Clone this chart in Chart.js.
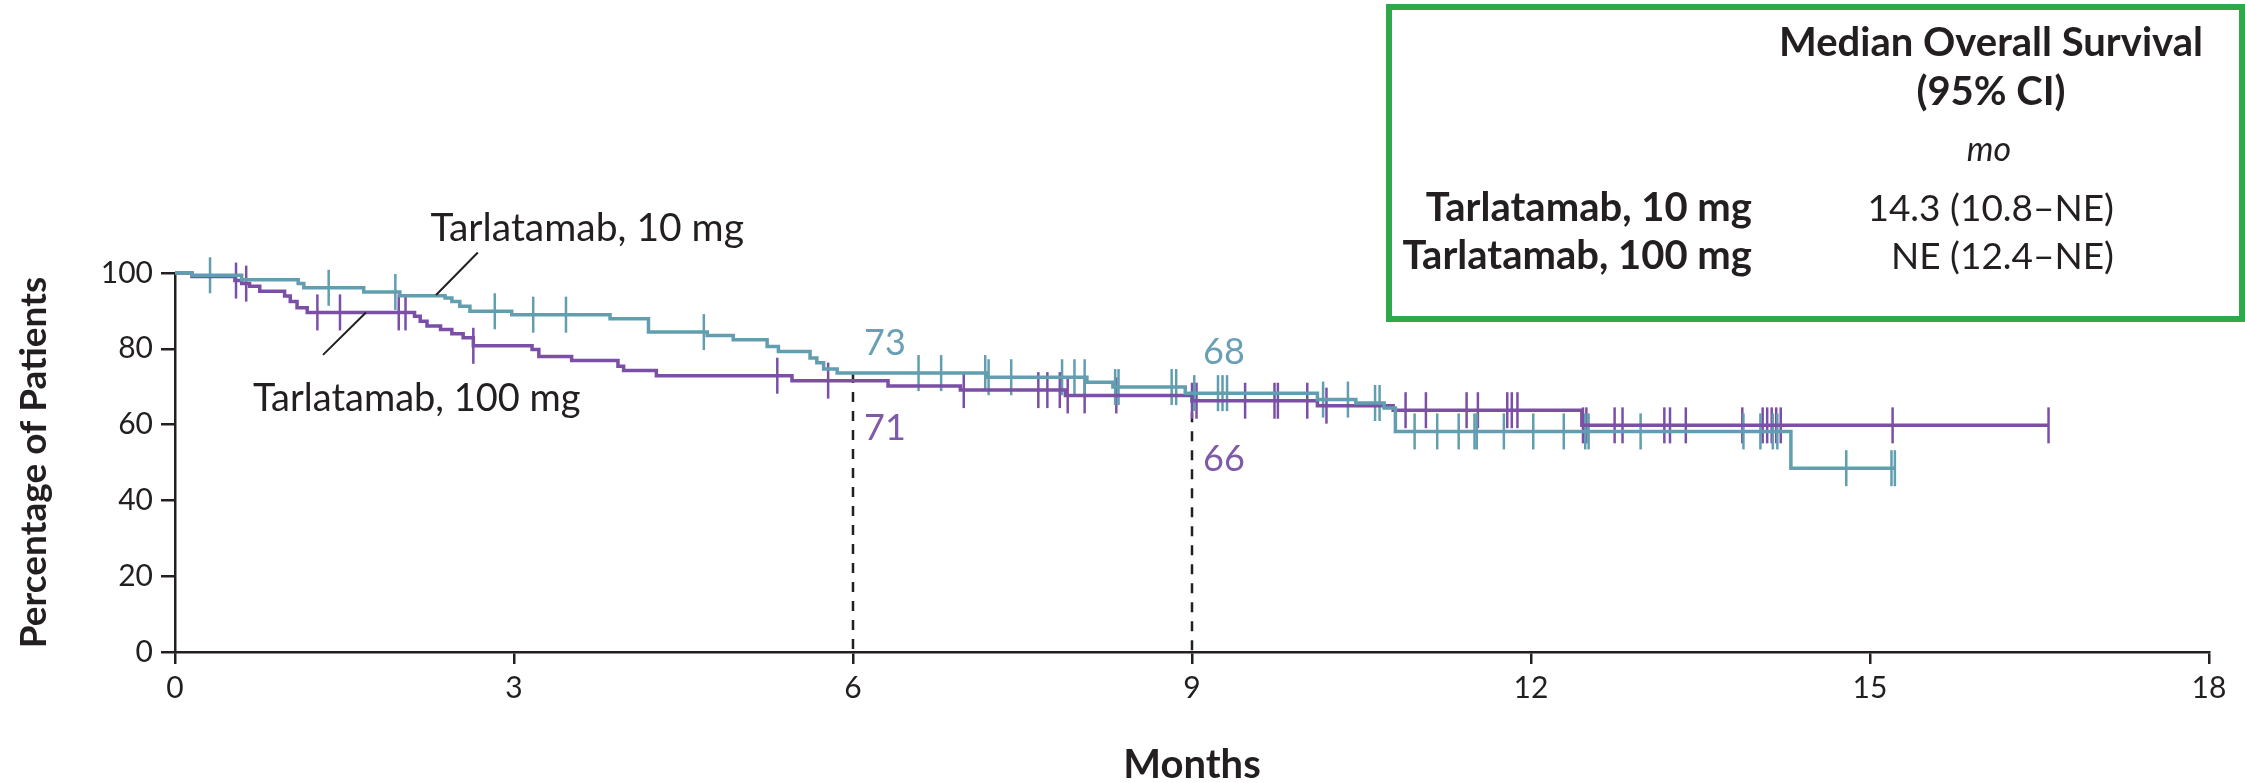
<!DOCTYPE html>
<html lang="en">
<head>
<meta charset="UTF-8">
<title>Overall Survival – Tarlatamab 10 mg vs 100 mg</title>
<script src="https://cdn.jsdelivr.net/npm/chart.js"></script>
<style>
  body { margin: 0; background: #fff; font-family: Lato, sans-serif; color: #231f20; }
  #wrap { position: relative; width: 2245px; height: 783px; overflow: hidden; }
  #chartCanvas { position: absolute; left: 0; top: 0; }
  #medianBox { position: absolute; left: 1386px; top: 4px; width: 859px; height: 318px;
               box-sizing: border-box; border: 6px solid #2fa84b; }
  .t { position: absolute; white-space: nowrap; line-height: 1; }
  .c { transform: translateX(-50%); }
  .r { transform: translateX(-100%); }
  .b { font-weight: 700; }
</style>
</head>
<body>
<div id="wrap">
  <canvas id="chartCanvas" width="2245" height="783"></canvas>
  <div id="medianBox"></div>
  <div class="t c b" style="left:1991px; top:21px; font-size:40px;">Median Overall Survival</div>
  <div class="t c b" style="left:1991px; top:70px; font-size:40px;">(95% CI)</div>
  <div class="t c" style="left:1989px; top:131px; font-size:34px; font-style:italic;">mo</div>
  <div class="t r b" style="left:1752px; top:186px; font-size:40px;">Tarlatamab, 10 mg</div>
  <div class="t r b" style="left:1752px; top:234px; font-size:40px;">Tarlatamab, 100 mg</div>
  <div class="t r" style="left:2114px; top:188px; font-size:37px;">14.3 (10.8–NE)</div>
  <div class="t r" style="left:2114px; top:236px; font-size:37px;">NE (12.4–NE)</div>
</div>

<script>
  // Kaplan-Meier steps: month where the step starts, % of patients alive
  const stepTimes10 = [0, 0.15, 0.59, 1.09, 1.14, 1.67, 1.99, 2.39, 2.45, 2.52, 2.61, 2.98, 3.85, 4.19, 4.71,
                       4.94, 5.24, 5.34, 5.62, 5.68, 5.74, 5.86, 7.18, 8.07, 8.30, 8.94, 10.11, 10.45, 10.70,
                       10.80, 14.30, 15.22];
  const stepSurv10  = [100, 99.4, 98.2, 97.2, 96.1, 95.0, 94.0, 93.4, 92.5, 91.2, 89.9, 89.0, 87.9, 84.4, 83.5,
                       82.4, 80.6, 79.3, 77.6, 76.3, 74.7, 73.6, 72.5, 71.2, 69.9, 68.3, 66.6, 65.7, 64.4,
                       58.2, 48.5, 48.5];

  const stepTimes100 = [0, 0.15, 0.53, 0.59, 0.66, 0.75, 0.97, 1.02, 1.08, 1.17, 2.12, 2.17, 2.23, 2.35, 2.45,
                        2.55, 2.64, 3.16, 3.22, 3.51, 3.92, 3.97, 4.26, 5.46, 6.31, 6.95, 7.88, 9.00, 10.11,
                        10.78, 12.45, 16.58];
  const stepSurv100  = [100, 99.1, 98.0, 97.2, 96.5, 95.2, 93.9, 92.5, 90.8, 89.6, 88.6, 87.3, 86.0, 85.1, 84.0,
                        82.9, 80.8, 79.8, 78.0, 76.9, 75.4, 74.3, 72.9, 71.6, 70.2, 69.1, 67.7, 66.3, 65.0,
                        63.8, 59.8, 59.8];

  // censored patients (months)
  const censor10 = [0.31, 1.36, 1.95, 2.83, 3.17, 3.46, 4.68, 6.58, 6.78, 7.17, 7.20, 7.40, 7.85, 7.96, 8.05,
                    8.32, 8.35, 8.82, 8.86, 9.02, 9.23, 9.27, 9.31, 10.16, 10.38, 10.62, 10.66, 10.97, 11.17,
                    11.36, 11.50, 11.52, 11.76, 12.02, 12.29, 12.48, 12.51, 12.97, 13.88, 14.03, 14.14, 14.18,
                    14.79, 15.19, 15.22];
  const censor100 = [0.54, 0.63, 1.26, 1.46, 1.98, 2.04, 2.64, 5.33, 5.78, 6.98, 7.64, 7.72, 7.83, 7.90, 8.05,
                     8.33, 9.00, 9.04, 9.47, 9.73, 9.76, 10.02, 10.19, 10.89, 11.07, 11.43, 11.53, 11.79, 11.83,
                     11.88, 12.46, 12.49, 12.74, 12.81, 13.18, 13.23, 13.37, 13.87, 14.05, 14.09, 14.13, 14.17,
                     14.21, 15.20, 16.58];

  // landmark estimates
  const landmarkMonths = [6, 9];
  const landmark10 = [73, 68];
  const landmark100 = [71, 66];

  const xTicks = [0, 3, 6, 9, 12, 15, 18];
  const yTicks = [0, 20, 40, 60, 80, 100];

  const TEAL = '#609eb0';
  const TEAL_TXT = '#6aa0b6';
  const PURPLE = '#7b4fa6';
  const PURPLE_TXT = '#7e5aa8';
  const INK = '#231f20';

  Chart.defaults.font.family = 'Lato, sans-serif';
  Chart.defaults.color = INK;

  function survivalAt(times, surv, t) {
    let v = surv[0];
    for (let i = 0; i < times.length; i++) {
      if (times[i] <= t) v = surv[i];
    }
    return v;
  }

  const toPoints = (times, surv) => times.map((t, i) => ({ x: t, y: surv[i] }));
  const toCensor = (cens, times, surv) => cens.map(t => ({ x: t, y: survivalAt(times, surv, t) }));

  const annotate = {
    id: 'annotate',
    beforeDatasetsDraw(chart) {
      const { ctx, scales: { x, y } } = chart;
      ctx.save();
      ctx.strokeStyle = INK;
      ctx.lineWidth = 2.5;
      ctx.setLineDash([10, 9]);
      landmarkMonths.forEach(m => {
        const px = x.getPixelForValue(m);
        ctx.beginPath();
        ctx.moveTo(px, y.getPixelForValue(survivalAt(stepTimes10, stepSurv10, m)));
        ctx.lineTo(px, y.getPixelForValue(0));
        ctx.stroke();
      });
      ctx.restore();
    },
    afterDatasetsDraw(chart) {
      const { ctx, scales: { x, y } } = chart;
      ctx.save();
      // landmark numbers (above: 10 mg, below: 100 mg)
      const above = [-32, -42];
      const below = [45, 58];
      ctx.font = '36px Lato, sans-serif';
      ctx.textAlign = 'left';
      ctx.textBaseline = 'middle';
      landmarkMonths.forEach((m, i) => {
        const px = x.getPixelForValue(m) + 11;
        ctx.fillStyle = TEAL_TXT;
        ctx.fillText(String(landmark10[i]), px, y.getPixelForValue(landmark10[i]) + above[i]);
        ctx.fillStyle = PURPLE_TXT;
        ctx.fillText(String(landmark100[i]), px, y.getPixelForValue(landmark100[i]) + below[i]);
      });

      // curve names with leader lines
      ctx.fillStyle = INK;
      ctx.font = '39px Lato, sans-serif';
      ctx.fillText('Tarlatamab, 10 mg', x.getPixelForValue(2.26), y.getPixelForValue(111.7));
      ctx.font = '38px Lato, sans-serif';
      ctx.fillText('Tarlatamab, 100 mg', x.getPixelForValue(0.69), y.getPixelForValue(66.8));
      ctx.strokeStyle = INK;
      ctx.lineWidth = 2;
      ctx.beginPath();
      ctx.moveTo(x.getPixelForValue(2.68), y.getPixelForValue(105.4));
      ctx.lineTo(x.getPixelForValue(2.31), y.getPixelForValue(94.2));
      ctx.moveTo(x.getPixelForValue(1.31), y.getPixelForValue(78.4));
      ctx.lineTo(x.getPixelForValue(1.69), y.getPixelForValue(89.6));
      ctx.stroke();
      ctx.restore();
    }
  };

  const ctx = document.getElementById('chartCanvas').getContext('2d');
  const chart = new Chart(ctx, {
    type: 'scatter',
    data: {
      datasets: [
        { label: 'Tarlatamab, 10 mg', data: toPoints(stepTimes10, stepSurv10), showLine: true, stepped: 'before',
          borderColor: TEAL, borderWidth: 3.5, pointRadius: 0, clip: false },
        { label: 'Tarlatamab, 100 mg', data: toPoints(stepTimes100, stepSurv100), showLine: true, stepped: 'before',
          borderColor: PURPLE, borderWidth: 3.5, pointRadius: 0, clip: false },
        { label: 'Censored 10 mg', data: toCensor(censor10, stepTimes10, stepSurv10), pointStyle: 'line',
          rotation: 90, pointRadius: 18, borderColor: TEAL, borderWidth: 2.5, clip: false },
        { label: 'Censored 100 mg', data: toCensor(censor100, stepTimes100, stepSurv100), pointStyle: 'line',
          rotation: 90, pointRadius: 18, borderColor: PURPLE, borderWidth: 2.5, clip: false }
      ]
    },
    options: {
      responsive: false,
      animation: false,
      events: [],
      layout: { padding: { left: 0, right: 36, top: 273, bottom: 0 } },
      plugins: { legend: { display: false }, tooltip: { enabled: false } },
      scales: {
        x: {
          type: 'linear', min: 0, max: 18,
          afterBuildTicks: s => { s.ticks = xTicks.map(v => ({ value: v })); },
          afterFit: s => { s.height = 131; },
          ticks: { font: { size: 30 }, color: INK, padding: 6 },
          grid: { drawOnChartArea: false, tickLength: 12, color: INK, lineWidth: 2.5 },
          border: { color: INK, width: 2.5 },
          title: { display: true, text: 'Months', font: { size: 40, weight: 'bold' }, color: INK,
                   padding: { top: -6, bottom: -6 } }
        },
        y: {
          min: 0, max: 100,
          afterBuildTicks: s => { s.ticks = yTicks.map(v => ({ value: v })); },
          afterFit: s => { s.width = 175; },
          ticks: { font: { size: 30 }, color: INK, padding: 8 },
          grid: { drawOnChartArea: false, tickLength: 14, color: INK, lineWidth: 2.5 },
          border: { color: INK, width: 2.5 },
          title: { display: true, text: 'Percentage of Patients', font: { size: 37, weight: 'bold' }, color: INK,
                   padding: { top: 12, bottom: 12 } }
        }
      }
    },
    plugins: [annotate]
  });
</script>
</body>
</html>
